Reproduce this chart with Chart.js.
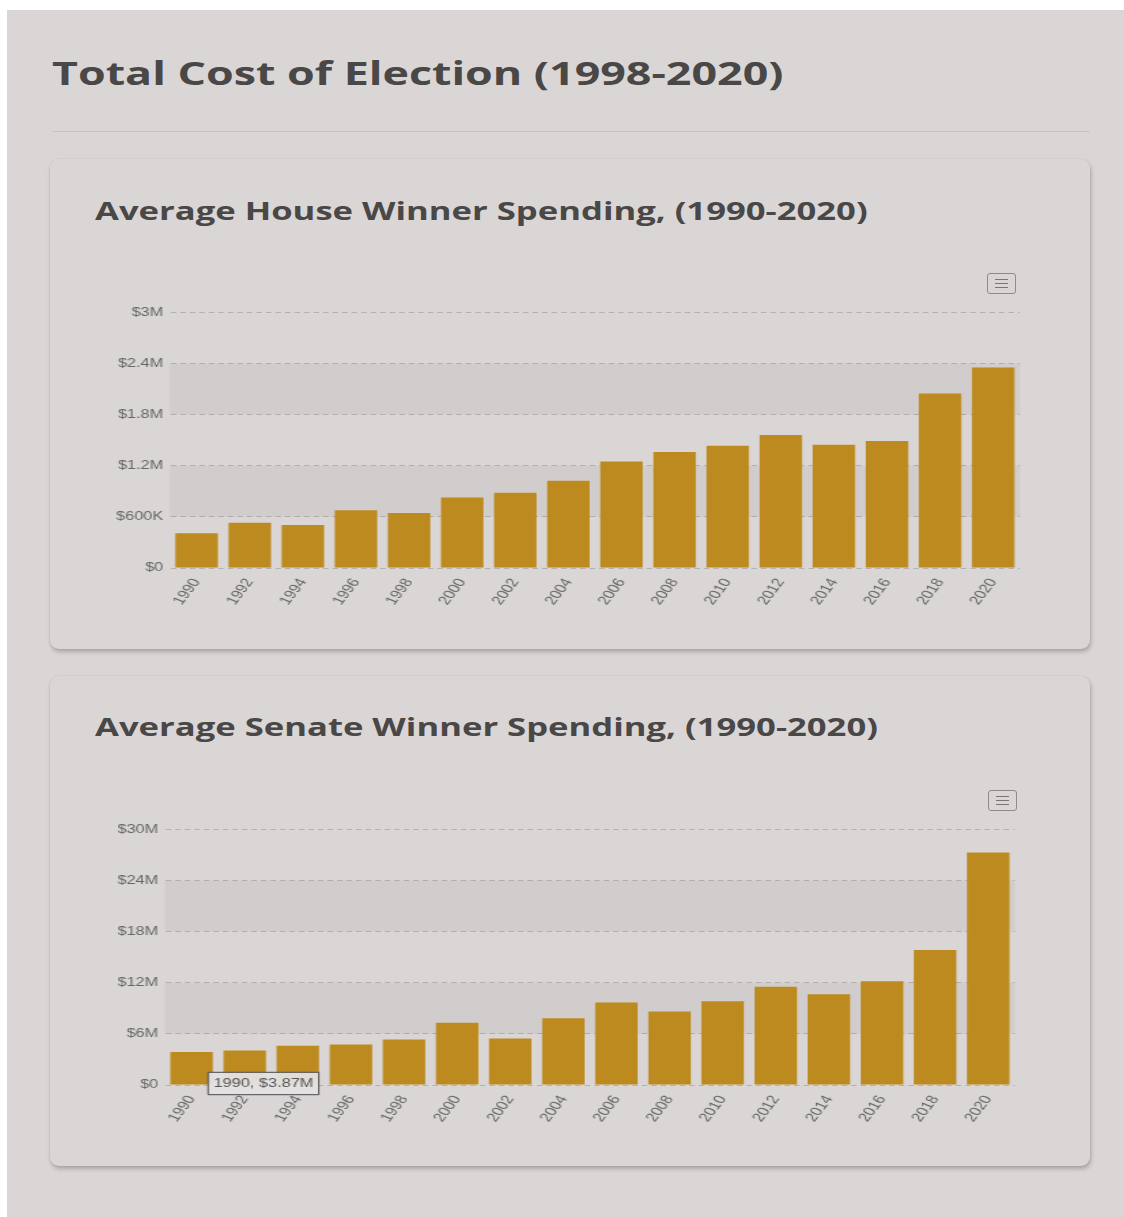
<!DOCTYPE html>
<html>
<head>
<meta charset="utf-8">
<script src="https://cdn.jsdelivr.net/npm/chart.js@4/dist/chart.umd.min.js"></script>
<style>
  html, body { margin: 0; padding: 0; background: #fff; }
  #page {
    position: absolute; left: 7px; top: 10px; width: 1117px; height: 1207px;
    background: #dad6d6; overflow: hidden;
  }
  .abs { position: absolute; }
  /* the whole layout is drawn with a wide horizontal stretch */
  h1, h2 { margin: 0; font-family: "Open Sans", sans-serif; font-weight: 700; color: #4a4747; white-space: nowrap; transform-origin: left top; }
  h1 { font-size: 33px; line-height: 40px; transform: scaleX(1.357); }
  h2 { font-size: 25px; line-height: 32px; transform: scaleX(1.385); }
  .rule { height: 1px; background: #c9c4c4; }
  .card {
    background: #dad6d6; border-radius: 9px;
    box-shadow: 1px 3px 4px rgba(0,0,0,0.22), 0 0 2px rgba(0,0,0,0.08);
  }
  .menu {
    width: 29px; height: 21px; border: 1px solid #8f8b8b; border-radius: 3px; box-sizing: border-box;
  }
  .menu i { position: absolute; left: 7px; width: 13px; height: 1px; background: #7a7676; }
  .chartbox { position: absolute; width: 680px; height: 305px; transform: scaleX(1.36); transform-origin: left top; }
</style>
</head>
<body>
<div id="page">
  <h1 class="abs" style="left:45px; top:43px;">Total Cost of Election (1998-2020)</h1>
  <div class="abs rule" style="left:45px; top:121px; width:1038px;"></div>

  <div class="abs card" style="left:43px; top:149px; width:1040px; height:490px;"></div>
  <h2 class="abs" style="left:88px; top:184px;">Average House Winner Spending, (1990-2020)</h2>
  <div class="abs menu" style="left:980px; top:263px;"><i style="top:5px"></i><i style="top:9px"></i><i style="top:13px"></i></div>

  <div class="abs card" style="left:43px; top:666px; width:1040px; height:490px;"></div>
  <h2 class="abs" style="left:88px; top:700px;">Average Senate Winner Spending, (1990-2020)</h2>
  <div class="abs menu" style="left:981px; top:780px;"><i style="top:5px"></i><i style="top:9px"></i><i style="top:13px"></i></div>

  <div class="chartbox" style="left:93px; top:290px;"><canvas id="houseChart"></canvas></div>
  <div class="chartbox" style="left:88px; top:807px;"><canvas id="senateChart"></canvas></div>
</div>

<script>
// election years shared by both charts
const years = ["1990","1992","1994","1996","1998","2000","2002","2004","2006","2008","2010","2012","2014","2016","2018","2020"];

// average spending by winning candidates, in dollars
const houseSpending = [407000, 531000, 504000, 676000, 645000, 828000, 883000, 1023000, 1250000, 1360000, 1433000, 1559000, 1445000, 1488000, 2047000, 2352000];
const senateSpending = [3870000, 4060000, 4610000, 4760000, 5350000, 7300000, 5460000, 7840000, 9670000, 8620000, 9830000, 11510000, 10650000, 12170000, 15840000, 27260000];

const houseMax = 3000000, houseStep = 600000;
const senateMax = 30000000, senateStep = 6000000;

const barColor = "#bc8a1e";

function money(v) {
  if (v === 0) return "$0";
  if (v >= 1e6) return "$" + (+(v / 1e6).toFixed(1)) + "M";
  return "$" + Math.round(v / 1000) + "K";
}

// alternate grid bands, every second interval is a bit darker
const bands = {
  id: "bands",
  beforeDatasetsDraw(chart, args, opts) {
    const y = chart.scales.y, area = chart.chartArea, c = chart.ctx;
    c.save();
    c.fillStyle = "rgba(120,100,100,0.07)";
    for (let v = opts.step; v < y.max; v += opts.step * 2) {
      const top = y.getPixelForValue(v + opts.step), bot = y.getPixelForValue(v);
      c.fillRect(area.left, top, area.right - area.left, bot - top);
    }
    c.restore();
  }
};

Chart.Tooltip.positioners.besideBar = function (items) {
  if (!items.length) return false;
  const el = items[0].element;
  return { x: el.x + 4.5, y: el.base - 1 };
};

function makeChart(id, data, max, step) {
  return new Chart(document.getElementById(id), {
    type: "bar",
    data: {
      labels: years,
      datasets: [{ data: data, backgroundColor: barColor, borderWidth: 0, categoryPercentage: 1, barPercentage: 0.8 }]
    },
    options: {
      responsive: true,
      maintainAspectRatio: false,
      animation: false,
      events: [],
      layout: { padding: { top: 12, right: 3.7, left: 0, bottom: 0 } },
      plugins: {
        legend: { display: false },
        bands: { step: step },
        tooltip: {
          enabled: true,
          position: "besideBar",
          xAlign: "left",
          yAlign: "center",
          caretSize: 0,
          caretPadding: 0,
          displayColors: false,
          backgroundColor: "rgba(228,225,225,0.95)",
          borderColor: "#4c4a4a",
          borderWidth: 1,
          cornerRadius: 0,
          padding: { left: 4, right: 4, top: 4, bottom: 4 },
          bodyColor: "#555",
          bodyFont: { family: "Liberation Sans", size: 12 },
          callbacks: {
            title: () => "",
            label: (ctx) => ctx.label + ", $" + (ctx.raw / 1e6).toFixed(2) + "M"
          }
        }
      },
      scales: {
        x: {
          grid: { display: false },
          border: { display: false },
          ticks: { color: "#666", font: { family: "Liberation Sans", size: 12.5 }, minRotation: 60, maxRotation: 60, padding: 0 },
          afterFit(s) { s.height = 37; }
        },
        y: {
          min: 0, max: max,
          grid: { color: "#b6b1b1", drawTicks: false, lineWidth: 1 },
          border: { display: false, dash: [4, 3] },
          ticks: { stepSize: step, color: "#666", font: { family: "Liberation Sans", size: 12 }, padding: 5, callback: money },
          afterFit(s) { s.width = 51.5; }
        }
      }
    },
    plugins: [bands]
  });
}

const houseChart = makeChart("houseChart", houseSpending, houseMax, houseStep);
const senateChart = makeChart("senateChart", senateSpending, senateMax, senateStep);

// keep the 1990 senate value label showing
senateChart.tooltip.setActiveElements([{ datasetIndex: 0, index: 0 }], { x: 0, y: 0 });
senateChart.update();
</script>
</body>
</html>
